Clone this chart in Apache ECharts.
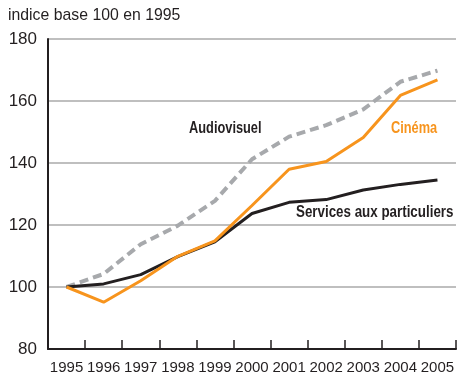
<!DOCTYPE html>
<html><head><meta charset="utf-8">
<script src="https://cdn.jsdelivr.net/npm/echarts@6/dist/echarts.min.js"></script>
<style>html,body{margin:0;padding:0;background:#fff}#c{width:457px;height:375px}</style>
</head><body><div id="c"></div>
<script>
const years = ['1995','1996','1997','1998','1999','2000','2001','2002','2003','2004','2005'];
const audiovisuel = [100, 104.2, 113.8, 119.8, 127.8, 141.2, 148.5, 152.2, 157.3, 166.2, 169.8];
const cinema = [100, 95.1, 102.0, 109.9, 114.9, 126.3, 138.0, 140.5, 148.2, 161.8, 166.8];
const services = [100, 101.0, 104.0, 109.8, 114.6, 123.7, 127.3, 128.2, 131.3, 133.1, 134.5];
const yTicks = [80, 100, 120, 140, 160, 180];

const font = "'Liberation Sans Narrow','Liberation Sans',sans-serif";
const chart = echarts.init(document.getElementById('c'), null, {renderer:'canvas'});
chart.setOption({
  animation: false,
  grid: {left: 48, top: 39, width: 411, height: 311, containLabel: false},
  xAxis: {
    type: 'category', data: years, boundaryGap: true,
    axisLine: {lineStyle: {color: '#231f20', width: 2}},
    axisTick: {show: true, inside: true, length: 9, alignWithLabel: false, interval: 0, lineStyle: {color: '#231f20', width: 1.5}},
    axisLabel: {color: '#231f20', fontFamily: font, fontSize: 15, margin: 11, interval: 0}
  },
  yAxis: {
    type: 'value', min: yTicks[0], max: yTicks[yTicks.length-1], interval: 20,
    axisLine: {show: true, lineStyle: {color: '#231f20', width: 2}},
    axisTick: {show: false},
    axisLabel: {color: '#231f20', fontFamily: font, fontSize: 17, margin: 11},
    splitLine: {lineStyle: {color: '#aaaaaa', width: 1.5}}
  },
  series: [
    {name: 'Audiovisuel', type: 'line', data: audiovisuel, symbol: 'none', z: 2,
     lineStyle: {color: '#a7a9ac', width: 4, type: [9, 5]}},
    {name: 'Services aux particuliers', type: 'line', data: services, symbol: 'none', z: 3,
     lineStyle: {color: '#231f20', width: 3}},
    {name: 'Cinéma', type: 'line', data: cinema, symbol: 'none', z: 4,
     lineStyle: {color: '#f7941d', width: 3}}
  ],
  graphic: [
    {type: 'text', x: 8, y: 7, scaleX: 0.93, style: {text: 'indice base 100 en 1995', fontFamily: font, fontSize: 17, fill: '#231f20'}},
    {type: 'text', x: 189, y: 121, scaleX: 0.8, style: {text: 'Audiovisuel', fontFamily: font, fontSize: 16, fontWeight: 'bold', fill: '#231f20'}},
    {type: 'text', x: 391, y: 121, scaleX: 0.8, style: {text: 'Cinéma', fontFamily: font, fontSize: 16, fontWeight: 'bold', fill: '#f7941d'}},
    {type: 'text', x: 296, y: 205, scaleX: 0.835, style: {text: 'Services aux particuliers', fontFamily: font, fontSize: 16, fontWeight: 'bold', fill: '#231f20'}}
  ]
});
</script></body></html>
